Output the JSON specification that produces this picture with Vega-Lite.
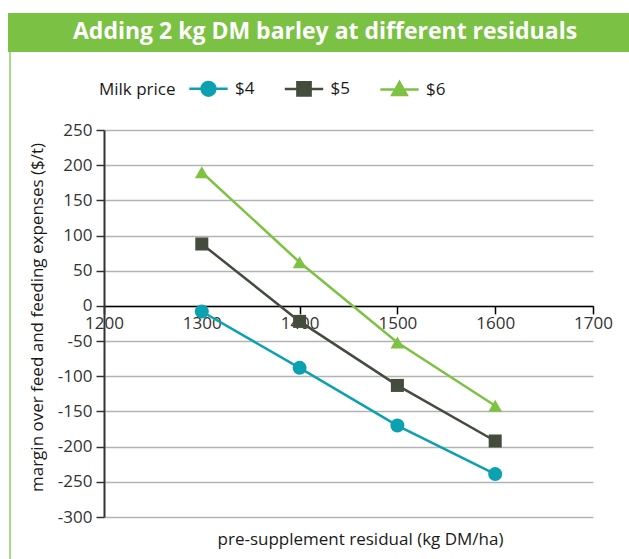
{
  "$schema": "https://vega.github.io/schema/vega-lite/v6.json",
  "width": 489,
  "height": 387,
  "autosize": {"type": "none"},
  "padding": {"left": 104, "top": 130, "right": 36, "bottom": 42},
  "background": "white",
  "config": {
    "font": "Open Sans",
    "view": {"stroke": null},
    "axis": {"labelFont": "Open Sans", "titleFont": "Open Sans"}
  },
  "data": {"values": [
    {"residual": 1300, "series": "$4", "margin": -8},
    {"residual": 1400, "series": "$4", "margin": -88},
    {"residual": 1500, "series": "$4", "margin": -170},
    {"residual": 1600, "series": "$4", "margin": -239},
    {"residual": 1300, "series": "$5", "margin": 88},
    {"residual": 1400, "series": "$5", "margin": -22},
    {"residual": 1500, "series": "$5", "margin": -113},
    {"residual": 1600, "series": "$5", "margin": -192},
    {"residual": 1300, "series": "$6", "margin": 190},
    {"residual": 1400, "series": "$6", "margin": 62},
    {"residual": 1500, "series": "$6", "margin": -52},
    {"residual": 1600, "series": "$6", "margin": -142}
  ]},
  "layer": [
    {
      "mark": {"type": "line", "strokeWidth": 2.5},
      "encoding": {
        "x": {
          "field": "residual", "type": "quantitative",
          "scale": {"domain": [1200, 1700], "nice": false, "zero": false},
          "axis": {
            "values": [1200, 1300, 1400, 1500, 1600, 1700],
            "labelExpr": "'' + datum.value",
            "labelFlush": false,
            "labelOverlap": false,
            "grid": false,
            "offset": -211.1,
            "domainColor": "#000000",
            "domainWidth": 1.5,
            "tickColor": "#000000",
            "tickWidth": 1.5,
            "tickSize": 8,
            "labelFontSize": 17,
            "labelColor": "#333333",
            "labelPadding": 2,
            "title": "pre-supplement residual (kg DM/ha)",
            "titleFontSize": 17,
            "titleFontWeight": "normal",
            "titleColor": "#1a1a1a",
            "titleBaseline": "middle",
            "titleX": 256,
            "titleY": 234
          }
        },
        "y": {
          "field": "margin", "type": "quantitative",
          "scale": {"domain": [-300, 250], "nice": false, "zero": false},
          "axis": {
            "values": [-300, -250, -200, -150, -100, -50, 0, 50, 100, 150, 200, 250],
            "tickCount": 12,
            "labelExpr": "'' + datum.value",
            "labelOverlap": false,
            "labelFlush": false,
            "grid": true,
            "gridColor": "#b3b3b3",
            "gridWidth": 1.6,
            "domainColor": "#333333",
            "domainWidth": 2,
            "tickColor": "#333333",
            "tickWidth": 1.5,
            "tickSize": 8,
            "labelFontSize": 17,
            "labelColor": "#333333",
            "labelPadding": 4,
            "title": "margin over feed and feeding expenses ($/t)",
            "titleFontSize": 17,
            "titleFontWeight": "normal",
            "titleColor": "#1a1a1a",
            "titleBaseline": "middle",
            "titleX": -67,
            "titleY": 187
          }
        },
        "color": {
          "field": "series", "type": "nominal",
          "scale": {"domain": ["$4", "$5", "$6"], "range": ["#0ba1b1", "#444c3e", "#7dc242"]}
        }
      }
    },
    {
      "transform": [{"filter": "datum.series === '$4'"}],
      "mark": {"type": "point", "shape": "circle", "filled": true, "opacity": 1, "size": 196},
      "encoding": {
        "x": {"field": "residual", "type": "quantitative"},
        "y": {"field": "margin", "type": "quantitative"},
        "color": {"field": "series", "type": "nominal"}
      }
    },
    {
      "transform": [{"filter": "datum.series === '$5'"}],
      "mark": {"type": "point", "shape": "square", "filled": true, "opacity": 1, "size": 170},
      "encoding": {
        "x": {"field": "residual", "type": "quantitative"},
        "y": {"field": "margin", "type": "quantitative"},
        "color": {"field": "series", "type": "nominal"}
      }
    },
    {
      "transform": [{"filter": "datum.series === '$6'"}],
      "mark": {"type": "point", "shape": "triangle-up", "filled": true, "opacity": 1, "size": 190},
      "encoding": {
        "x": {"field": "residual", "type": "quantitative"},
        "y": {"field": "margin", "type": "quantitative"},
        "color": {"field": "series", "type": "nominal"}
      }
    },
    {
      "mark": {"type": "point", "filled": true, "opacity": 0, "size": 144, "strokeWidth": 2.5},
      "encoding": {
        "x": {"field": "residual", "type": "quantitative"},
        "y": {"field": "margin", "type": "quantitative"},
        "color": {
          "field": "series", "type": "nominal",
          "legend": {
            "title": "Milk price",
            "orient": "none",
            "legendX": -5,
            "legendY": -50,
            "direction": "horizontal",
            "titleOrient": "left",
            "titleFontSize": 17,
            "titleFontWeight": "normal",
            "titleColor": "#1a1a1a",
            "titleBaseline": "middle",
            "titlePadding": 24,
            "labelFontSize": 17,
            "labelColor": "#1a1a1a",
            "labelOffset": 18,
            "columnPadding": 24.5,
            "symbolSize": 144,
            "symbolOpacity": 1,
            "symbolStrokeWidth": 2.5,
            "padding": 0
          }
        },
        "stroke": {
          "field": "series", "type": "nominal",
          "scale": {"domain": ["$4", "$5", "$6"], "range": ["#0ba1b1", "#444c3e", "#7dc242"]}
        },
        "shape": {
          "field": "series", "type": "nominal",
          "scale": {"domain": ["$4", "$5", "$6"], "range": [
            "M-3.2,0H3.2M1.15,0A1.15,1.15,0,1,1,-1.15,0A1.15,1.15,0,1,1,1.15,0Z",
            "M-3.2,0H3.2M-1.1,-1.1H1.1V1.1H-1.1Z",
            "M-3.2,0H3.2M0,-1.25L1.2,0.9H-1.2Z"
          ]}
        }
      }
    },
    {
      "data": {"values": [{"label": "Adding 2 kg DM barley at different residuals"}]},
      "mark": {"type": "rect", "color": "#7bc143", "clip": false},
      "encoding": {
        "x": {"datum": 1101.8, "type": "quantitative"},
        "x2": {"datum": 1745},
        "y": {"datum": 416.3, "type": "quantitative"},
        "y2": {"datum": 360.9}
      }
    },
    {
      "data": {"values": [{"label": "Adding 2 kg DM barley at different residuals"}]},
      "mark": {"type": "rule", "color": "#a6d78a", "strokeWidth": 2, "clip": false},
      "encoding": {
        "x": {"datum": 1104, "type": "quantitative"},
        "y": {"datum": 360.9, "type": "quantitative"},
        "y2": {"datum": -365}
      }
    },
    {
      "data": {"values": [{"label": "Adding 2 kg DM barley at different residuals"}]},
      "mark": {"type": "text", "color": "white", "font": "Open Sans", "fontWeight": "bold", "fontSize": 23, "baseline": "middle", "align": "center", "clip": false},
      "encoding": {
        "x": {"datum": 1426, "type": "quantitative"},
        "y": {"datum": 388.6, "type": "quantitative"},
        "text": {"field": "label"}
      }
    }
  ]
}
